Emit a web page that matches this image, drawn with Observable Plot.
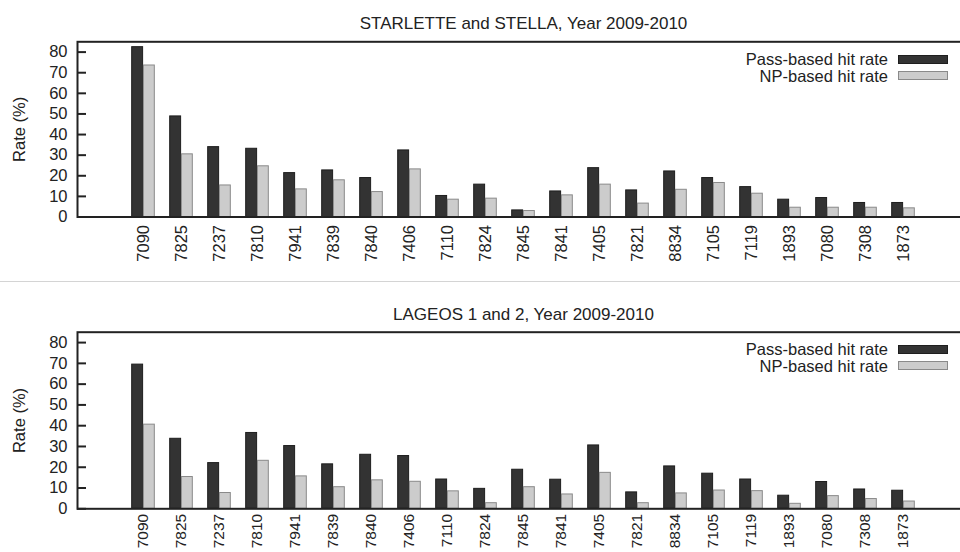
<!DOCTYPE html>
<html><head><meta charset="utf-8">
<script src="https://cdn.jsdelivr.net/npm/d3@7"></script>
<script src="https://cdn.jsdelivr.net/npm/@observablehq/plot@0.6"></script>
<style>
body{margin:0;background:#fff;overflow:hidden;}
#root{width:960px;height:552px;position:relative;overflow:hidden;font-family:"Liberation Sans",Arial,sans-serif;color:#222;}
.panel{position:relative;width:960px;overflow:hidden;}
.sep{width:960px;height:1px;background:#d4d4d4;}
.lg-text{position:absolute;right:72px;font-size:16.5px;line-height:18px;white-space:nowrap;color:#222;}
.lg-sw{position:absolute;left:898px;width:50px;height:9px;box-sizing:border-box;}
</style></head><body><div id="root"></div>
<script>
const stations = ["7090","7825","7237","7810","7941","7839","7840","7406","7110","7824","7845","7841","7405","7821","8834","7105","7119","1893","7080","7308","1873"];
const starlettePass = [82.4,48.8,33.9,33.1,21.3,22.6,18.9,32.3,10.2,15.7,3.2,12.4,23.7,12.9,22.1,18.9,14.5,8.4,9.2,6.8,6.8];
const starletteNP   = [73.5,30.4,15.3,24.6,13.4,17.8,12.1,23.1,8.4,8.9,2.9,10.5,15.7,6.5,13.2,16.5,11.3,4.5,4.5,4.5,4.2];
const lageosPass    = [69.4,33.7,22.0,36.5,30.2,21.4,26.0,25.4,14.1,9.6,18.8,14.0,30.5,7.9,20.4,16.9,14.1,6.3,12.9,9.3,8.7];
const lageosNP      = [40.5,15.3,7.6,23.1,15.6,10.4,13.7,13.0,8.4,2.7,10.4,6.9,17.3,2.7,7.4,8.8,8.5,2.4,6.1,4.7,3.5];
const yTicks = [0,10,20,30,40,50,60,70,80];
const seriesNames = ["Pass-based hit rate","NP-based hit rate"];
const titleTop = "STARLETTE and STELLA, Year 2009-2010";
const titleBottom = "LAGEOS 1 and 2, Year 2009-2010";
const yLabel = "Rate (%)";

const W = 960, ML = 77, MR = -9;
const plotW = W - ML - MR;
const step = plotW / (stations.length + 2);
const barW = 11.7;
const half = step / 2;
const darkFill = "#333333", darkStroke = "#1e1e1e";
const lightFill = "#cccccc", lightStroke = "#8a8a8a";

function chart(title, pass, np, height, marginTop, marginBottom, xPad, xFont) {
  const rows = stations.map((s, i) => ({station: s, pass: pass[i], np: np[i]}));
  const svg = Plot.plot({
    width: W, height, marginLeft: ML, marginRight: MR, marginTop, marginBottom,
    style: {fontFamily: "'Liberation Sans', Arial, sans-serif", fontSize: "16.5px", color: "#222", overflow: "hidden", background: "#fff"},
    x: {type: "band", domain: stations, paddingInner: 0, paddingOuter: 1, label: null},
    y: {domain: [0, 85], label: null},
    marks: [
      Plot.barY(rows, {x: "station", y: "pass", fill: darkFill, stroke: darkStroke, strokeWidth: 1, insetLeft: half - barW, insetRight: half}),
      Plot.barY(rows, {x: "station", y: "np", fill: lightFill, stroke: lightStroke, strokeWidth: 1, insetLeft: half, insetRight: half - barW}),
      Plot.tickY(yTicks, {y: d => d, stroke: "#222", strokeWidth: 2, insetRight: plotW - 9}),
      Plot.tickY(yTicks, {y: d => d, stroke: "#222", strokeWidth: 2, insetLeft: plotW - 9}),
      Plot.axisX({tickSize: 0, tickPadding: xPad, tickRotate: -90, label: null, fontSize: xFont}),
      Plot.axisY({ticks: yTicks, tickSize: 0, tickPadding: 10, label: yLabel, labelAnchor: "center", labelOffset: 64, labelArrow: "none"}),
      Plot.frame({stroke: "#222", strokeWidth: 2}),
      Plot.text([title], {frameAnchor: "top", dy: -24.5, fontSize: 17, fill: "#222"})
    ]
  });
  const panel = document.createElement("div");
  panel.className = "panel";
  panel.style.height = height + "px";
  panel.appendChild(svg);
  // legend
  const c1 = marginTop + 17.7, c2 = marginTop + 34.2;
  const fills = [[darkFill, darkStroke], [lightFill, lightStroke]];
  [c1, c2].forEach((c, i) => {
    const t = document.createElement("div");
    t.className = "lg-text";
    t.style.top = (c - 9) + "px";
    t.textContent = seriesNames[i];
    panel.appendChild(t);
    const sw = document.createElement("div");
    sw.className = "lg-sw";
    sw.style.top = (c - 4.5) + "px";
    sw.style.background = fills[i][0];
    sw.style.border = "1px solid " + fills[i][1];
    panel.appendChild(sw);
  });
  return panel;
}

const root = document.getElementById("root");
root.appendChild(chart(titleTop, starlettePass, starletteNP, 281, 41.3, 64.5, 8, 16.5));
const sep = document.createElement("div"); sep.className = "sep"; root.appendChild(sep);
root.appendChild(chart(titleBottom, lageosPass, lageosNP, 270, 49.7, 43.7, 5, 15.5));
</script></body></html>
